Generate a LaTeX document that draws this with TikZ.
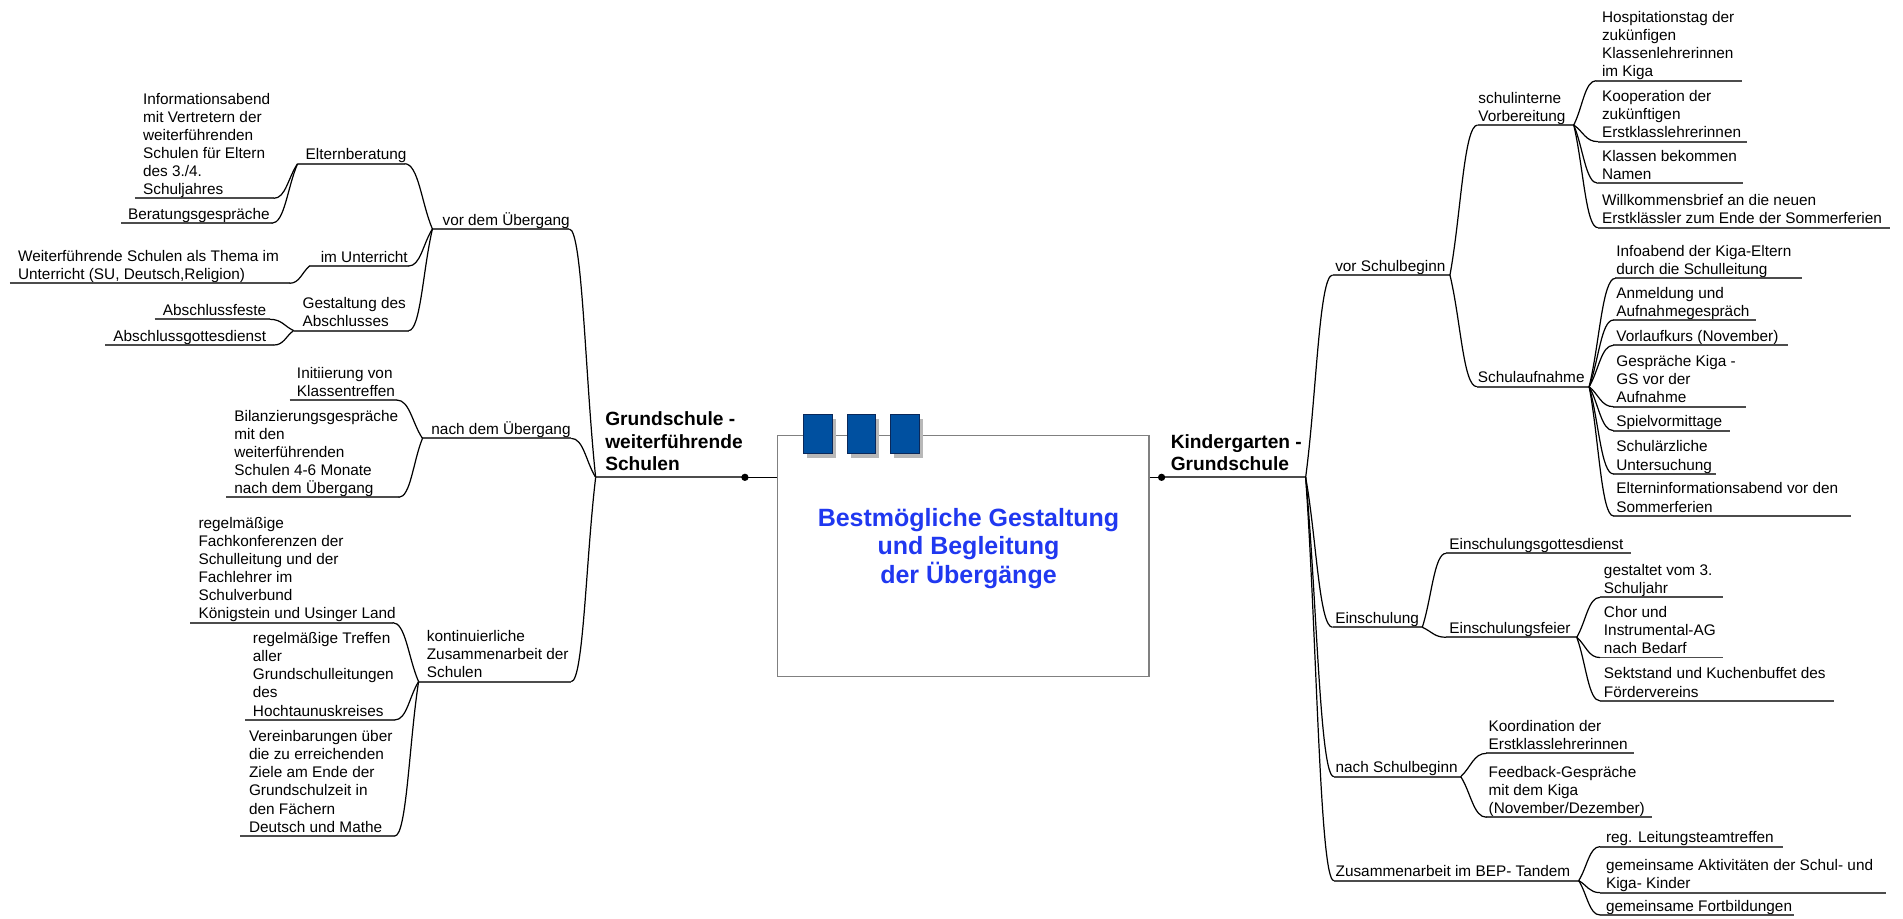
\documentclass[tikz,border=0pt]{standalone}
\usepackage{fontspec}
\setmainfont{Liberation Sans}
\usetikzlibrary{calc}

\definecolor{titleblue}{RGB}{32,56,240}
\definecolor{boxblue}{RGB}{0,80,160}
\definecolor{boxnavy}{RGB}{10,40,90}

\tikzset{
  topic/.style={anchor=south west, inner sep=0pt, text depth=0pt, align=left,
    font=\fontsize{12.65}{14.9}\selectfont},
  heading/.style={anchor=south west, inner sep=0pt, text depth=0pt, align=left,
    font=\fontsize{15.8}{18.3}\selectfont\bfseries},
  uline/.style={line width=1.5pt, draw=black!70},
  link/.style={line width=1pt, draw=black},
  tab/.style={fill=boxblue, draw=boxnavy, line width=0.6pt},
  tabshadow/.style={fill=black!28},
}

% topic: name, left x, right x, underline y, text x, text
\newcommand\mmtopic[6]{%
  \coordinate (#1-l) at (#2,#4);
  \coordinate (#1-r) at (#3,#4);
  \node[topic] (#1) at (#5,#4-3) {#6};
  \draw[uline] (#1-l) -- (#1-r);
}
% curved branch from a hub to the near end of a child's underline
\newcommand\mmlink[2]{%
  \draw[link] let \p1=(#1), \p2=(#2) in
    (\p1) .. controls ($(\p1)!0.4!(\p2)$) and ({0.5*\x1+0.5*\x2},\y2) .. (\p2);
}

\begin{document}
\begin{tikzpicture}[x=1pt,y=-1pt]
\fill[white] (0,0) rectangle (1568,757);
\useasboundingbox (0,0) rectangle (1568,757);

% ---------- central topic ----------
\node[draw=black!50, line width=1.2pt, fill=white, anchor=north west, inner sep=0pt,
      minimum width=306pt, minimum height=198.6pt] (center) at (640,358.4) {};
\foreach \x/\w [count=\i] in {662/23.8, 698.1/22.8, 733.3/23.9}{
  \fill[tabshadow] (\x+3,341.1+4) rectangle ++(\w,31.9);
  \node[tab, anchor=north west, inner sep=0pt, minimum width=\w pt, minimum height=31.9pt]
    (tab\i) at (\x,341.1) {};
}
\node[font=\fontsize{20.6}{23.8}\selectfont\bfseries, text=titleblue, align=center,
      anchor=south, inner sep=0pt, text depth=0pt] (title) at (798,481.2)
  {Bestmögliche Gestaltung\\und Begleitung\\der Übergänge};

% ---------- main branches ----------
\coordinate (rootL-l) at (490.8,393.3);
\coordinate (rootL-r) at (613.8,393.3);
\node[heading] (rootL) at (498.5,387.8) {Grundschule -\\weiterführende\\Schulen};
\draw[uline] (rootL-l) -- (rootL-r);
\draw[line width=0.8pt] (rootL-r) -- (rootL-r -| center.west);
\fill (rootL-r) circle (3pt);

\coordinate (rootR-l) at (957.1,393.3);
\coordinate (rootR-r) at (1075.8,393.3);
\node[heading] (rootR) at (964.5,387.8) {Kindergarten -\\Grundschule};
\draw[uline] (rootR-l) -- (rootR-r);
\draw[line width=0.8pt] (rootR-l -| center.east) -- (rootR-l);
\fill (rootR-l) circle (3pt);

% ---------- left side ----------
\mmtopic{vor}{356.3}{469.1}{188.7}{364.5}{vor dem Übergang}
\mmtopic{nach}{348.1}{470.7}{361.2}{355.3}{nach dem Übergang}
\mmtopic{kont}{344.9}{470.7}{561.6}{351.5}{kontinuierliche\\Zusammenarbeit der\\Schulen}

\mmtopic{eltb}{245.2}{333.4}{134.9}{251.7}{Elternberatung}
\mmtopic{info}{111.1}{225.6}{163.4}{117.7}{Informationsabend\\mit Vertretern der\\weiterführenden\\Schulen für Eltern\\des 3./4.\\Schuljahres}
\mmtopic{berat}{99.7}{223.9}{184}{105.3}{Beratungsgespräche}
\mmtopic{imunt}{255}{336.7}{219.2}{264.1}{im Unterricht}
\mmtopic{weit}{8.2}{238.6}{233.4}{14.7}{Weiterführende Schulen als Thema im\\Unterricht (SU, Deutsch,Religion)}
\mmtopic{gest}{241.9}{336.7}{272.4}{249.1}{Gestaltung des\\Abschlusses}
\mmtopic{afeste}{127.5}{222.3}{263.1}{134}{Abschlussfeste}
\mmtopic{agott}{86.6}{225.6}{284.3}{93.2}{Abschlussgottesdienst}

\mmtopic{init}{238.6}{326.9}{329.6}{244.5}{Initiierung von\\Klassentreffen}
\mmtopic{bilanz}{186.3}{328.5}{409.8}{192.9}{Bilanzierungsgespräche\\mit den\\weiterführenden\\Schulen 4-6 Monate\\nach dem Übergang}

\mmtopic{fachk}{156.9}{323.6}{513}{163.4}{regelmäßige\\Fachkonferenzen der\\Schulleitung und der\\Fachlehrer im\\Schulverbund\\Königstein und Usinger Land}
\mmtopic{treff}{202}{325.3}{593.2}{208.2}{regelmäßige Treffen\\aller\\Grundschulleitungen\\des\\Hochtaunuskreises}
\mmtopic{verein}{197.8}{325.3}{688.8}{205}{Vereinbarungen über\\die zu erreichenden\\Ziele am Ende der\\Grundschulzeit in\\den Fächern\\Deutsch und Mathe}

\mmlink{rootL-l}{vor-r}
\mmlink{rootL-l}{nach-r}
\mmlink{rootL-l}{kont-r}
\mmlink{vor-l}{eltb-r}
\mmlink{vor-l}{imunt-r}
\mmlink{vor-l}{gest-r}
\mmlink{eltb-l}{info-r}
\mmlink{eltb-l}{berat-r}
\mmlink{imunt-l}{weit-r}
\mmlink{gest-l}{afeste-r}
\mmlink{gest-l}{agott-r}
\mmlink{nach-l}{init-r}
\mmlink{nach-l}{bilanz-r}
\mmlink{kont-l}{fachk-r}
\mmlink{kont-l}{treff-r}
\mmlink{kont-l}{verein-r}

% ---------- right side ----------
\mmtopic{vsb}{1098}{1194.7}{226.6}{1100}{vor Schulbeginn}
\mmtopic{einsch}{1098}{1171.9}{516.9}{1100}{Einschulung}
\mmtopic{nsb}{1099}{1203.6}{639.9}{1100.3}{nach Schulbeginn}
\mmtopic{zus}{1099}{1300.8}{725.6}{1100.3}{Zusammenarbeit im BEP- Tandem}

\mmtopic{schint}{1217.5}{1296.7}{103}{1218}{schulinterne\\Vorbereitung}
\mmtopic{saufn}{1216.8}{1309.4}{318.6}{1217.5}{Schulaufnahme}

\mmtopic{hosp}{1315.1}{1435.5}{66.5}{1319.8}{Hospitationstag der\\zukünfigen\\Klassenlehrerinnen\\im Kiga}
\mmtopic{koop}{1316.5}{1439.3}{116.7}{1319.8}{Kooperation der\\zukünftigen\\Erstklasslehrerinnen}
\mmtopic{klass}{1316.5}{1436.2}{151}{1319.8}{Klassen bekommen\\Namen}
\mmtopic{willk}{1316.5}{1557.6}{187.6}{1319.8}{Willkommensbrief an die neuen\\Erstklässler zum Ende der Sommerferien}

\mmtopic{infoab}{1331}{1484.7}{229.3}{1331.6}{Infoabend der Kiga-Eltern\\durch die Schulleitung}
\mmtopic{anm}{1329.4}{1446.6}{263.7}{1331.6}{Anmeldung und\\Aufnahmegespräch}
\mmtopic{vorl}{1329.4}{1472.9}{284.5}{1331.6}{Vorlaufkurs (November)}
\mmtopic{gespr}{1329.4}{1438.7}{335.1}{1331.6}{Gespräche Kiga -\\GS vor der\\Aufnahme}
\mmtopic{spiel}{1329.4}{1425.4}{354.8}{1331.6}{Spielvormittage}
\mmtopic{arzt}{1329.4}{1414}{390.5}{1331.6}{Schulärzliche\\Untersuchung}
\mmtopic{elt}{1329.4}{1524.9}{425.1}{1331.6}{Elterninformationsabend vor den\\Sommerferien}

\mmtopic{egott}{1191.5}{1343.7}{455.9}{1194}{Einschulungsgottesdienst}
\mmtopic{efeier}{1191.5}{1299.2}{525.1}{1194}{Einschulungsfeier}
\mmtopic{gest3}{1318.3}{1419.6}{492.2}{1321.4}{gestaltet vom 3.\\Schuljahr}
\mmtopic{chor}{1318.3}{1419.6}{541.8}{1321.4}{Chor und\\Instrumental-AG\\nach Bedarf}
\mmtopic{sekt}{1318.3}{1510.9}{577.5}{1321.4}{Sektstand und Kuchenbuffet des\\Fördervereins}

\mmtopic{koord}{1224.8}{1346.1}{620.7}{1226.4}{Koordination der\\Erstklasslehrerinnen}
\mmtopic{feed}{1224.8}{1361.1}{673.4}{1226.4}{Feedback-Gespräche\\mit dem Kiga\\(November/Dezember)}

\mmtopic{reg}{1318.3}{1468.8}{697.6}{1323.1}{reg. Leitungsteamtreffen}
\mmtopic{gakt}{1318.3}{1554.3}{735.5}{1323.1}{gemeinsame Aktivitäten der Schul- und\\Kiga- Kinder}
\mmtopic{gfort}{1318.3}{1478.3}{753.9}{1323.1}{gemeinsame Fortbildungen}

\mmlink{rootR-r}{vsb-l}
\mmlink{rootR-r}{einsch-l}
\mmlink{rootR-r}{nsb-l}
\mmlink{rootR-r}{zus-l}
\mmlink{vsb-r}{schint-l}
\mmlink{vsb-r}{saufn-l}
\foreach \c in {hosp,koop,klass,willk}{\mmlink{schint-r}{\c-l}}
\foreach \c in {infoab,anm,vorl,gespr,spiel,arzt,elt}{\mmlink{saufn-r}{\c-l}}
\mmlink{einsch-r}{egott-l}
\mmlink{einsch-r}{efeier-l}
\foreach \c in {gest3,chor,sekt}{\mmlink{efeier-r}{\c-l}}
\mmlink{nsb-r}{koord-l}
\mmlink{nsb-r}{feed-l}
\foreach \c in {reg,gakt,gfort}{\mmlink{zus-r}{\c-l}}
\end{tikzpicture}
\end{document}
